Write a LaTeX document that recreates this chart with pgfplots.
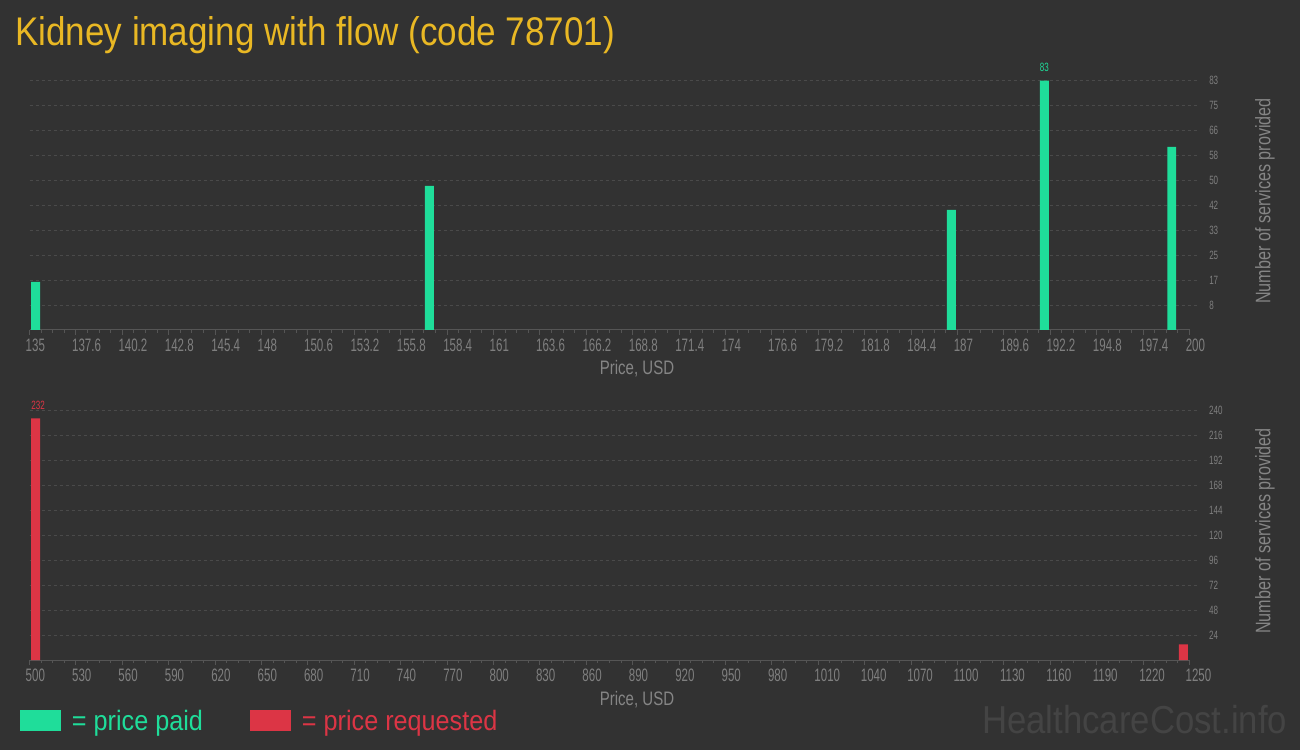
\documentclass[border=0pt]{standalone}
\usepackage{pgfplots}
\pgfplotsset{compat=1.18}
\usepackage{fontspec}
\setmainfont{Liberation Sans}
\newfontfamily\titlefont[FakeStretch=0.876]{Liberation Sans}
\newfontfamily\tickfont[FakeStretch=0.64]{Liberation Sans}
\newfontfamily\smallfont[FakeStretch=0.67]{Liberation Sans}
\newfontfamily\labelfont[FakeStretch=0.77]{Liberation Sans}
\newfontfamily\legfont[FakeStretch=0.9]{Liberation Sans}
\newfontfamily\wmfont[FakeStretch=0.89]{Liberation Sans}
\definecolor{bgc}{HTML}{323232}
\definecolor{gridc}{HTML}{4A4A4A}
\definecolor{axc}{HTML}{555555}
\definecolor{tickc}{HTML}{7F7F7F}
\definecolor{labc}{HTML}{858585}
\definecolor{paidc}{HTML}{1FDD9A}
\definecolor{reqc}{HTML}{DC3545}
\definecolor{titc}{HTML}{E9B824}
\definecolor{wmc}{HTML}{444444}
\pgfplotsset{
  mystyle/.style={
    scale only axis, width=1168.5pt,
    axis x line*=bottom, axis y line*=right,
    x axis line style={-, draw=axc, line width=1pt, shorten >=8.5pt},
    y axis line style={draw=none},
    tick align=outside,
    xtick style={draw=axc, line width=1pt},
    major tick length=5pt, minor tick length=3pt,
    minor x tick num=3,
    ytick style={draw=none},
    ymajorgrids,
    grid style={draw=gridc, line width=1pt, dash pattern=on 3pt off 3pt},
    xticklabel style={font=\tickfont\fontsize{18}{18}\selectfont, text=tickc, anchor=north west, inner sep=0pt, xshift=-4pt, yshift=-4pt},
    yticklabel style={font=\smallfont\fontsize{12}{12}\selectfont, text=tickc, anchor=west, inner sep=0pt, xshift=6pt},
    ymin=0,
    xlabel={Price, USD},
    every axis x label/.style={at={(rel axis cs:0,0)}, anchor=base, xshift=607.5pt, yshift=-45pt, font=\labelfont\fontsize{19.5}{19.5}\selectfont, text=labc},
  }
}
\begin{document}
\begin{tikzpicture}[x=1pt,y=1pt]
\fill[bgc] (0,0) rectangle (1300,750);
\node[anchor=base west, inner sep=0pt, text=titc, font=\titlefont\fontsize{40}{40}\selectfont] at (15,704) {Kidney imaging with flow (code 78701)};

\begin{axis}[mystyle,
  at={(29.5pt,420pt)}, anchor=south west, height=249.3pt,
  xmin=135, xmax=200.476, ymax=83,
  xtick={135,137.6,140.2,142.8,145.4,148,150.6,153.2,155.8,158.4,161,163.6,166.2,168.8,171.4,174,176.6,179.2,181.8,184.4,187,189.6,192.2,194.8,197.4,200},
  xticklabels={135,137.6,140.2,142.8,145.4,148,150.6,153.2,155.8,158.4,161,163.6,166.2,168.8,171.4,174,176.6,179.2,181.8,184.4,187,189.6,192.2,194.8,197.4,200},
  ytick={8.3,16.6,24.9,33.2,41.5,49.8,58.1,66.4,74.7,83},
  yticklabels={8,17,25,33,42,50,58,66,75,83},
]
\addplot[ybar, bar width=0.5, bar shift=0pt, fill=paidc, draw=none] coordinates {
  (135.34,16) (157.41,48) (186.65,40) (191.86,83) (199.0,61)
};
\addplot[draw=none, mark=none, nodes near coords, point meta=explicit symbolic,
  nodes near coords style={font=\smallfont\fontsize{12}{12}\selectfont, text=paidc, anchor=south, inner sep=0pt, yshift=8.7pt}]
  coordinates {(191.86,83) [83]};
\end{axis}

\begin{axis}[mystyle,
  at={(29.5pt,90pt)}, anchor=south west, height=250pt,
  xmin=500, xmax=1255.5, ymax=240,
  xtick={500,530,560,590,620,650,680,710,740,770,800,830,860,890,920,950,980,1010,1040,1070,1100,1130,1160,1190,1220,1250},
  xticklabels={500,530,560,590,620,650,680,710,740,770,800,830,860,890,920,950,980,1010,1040,1070,1100,1130,1160,1190,1220,1250},
  ytick={24,48,72,96,120,144,168,192,216,240},
  yticklabels={24,48,72,96,120,144,168,192,216,240},
  legend image code/.code={\fill[#1] (0pt,-10pt) rectangle (41pt,11pt);},
  legend columns=2,
  legend style={at={(0,0)}, anchor=south west, xshift=-9.5pt, yshift=-71.9pt, draw=none, fill=none, inner sep=0pt, outer sep=0pt,
    nodes={inner sep=0pt}, font=\legfont\fontsize{28}{28}\selectfont,
    /tikz/every odd column/.append style={column sep=11pt},
    /tikz/every even column/.append style={column sep=47pt}},
]
\addlegendimage{fill=paidc, draw=none}
\addlegendentry{\textcolor{paidc}{= price paid}}
\addlegendimage{fill=reqc, draw=none}
\addlegendentry{\textcolor{reqc}{= price requested}}
\addplot[ybar, bar width=5.8, bar shift=0pt, fill=reqc, draw=none, forget plot] coordinates {
  (503.9,232) (1246,15)
};
\addplot[draw=none, mark=none, forget plot, nodes near coords, point meta=explicit symbolic,
  nodes near coords style={font=\smallfont\fontsize{12}{12}\selectfont, text=reqc, anchor=south, inner sep=0pt, yshift=9pt, xshift=2.5pt}]
  coordinates {(503.9,232) [232]};
\end{axis}

\node[rotate=90, inner sep=0pt, text=labc, font=\labelfont\fontsize{21}{21}\selectfont] at (1265,549) {Number of services provided};
\node[rotate=90, inner sep=0pt, text=labc, font=\labelfont\fontsize{21}{21}\selectfont] at (1265,219) {Number of services provided};
\node[anchor=base west, inner sep=0pt, text=wmc, font=\wmfont\fontsize{39}{39}\selectfont] at (982,17) {HealthcareCost.info};
\end{tikzpicture}
\end{document}
